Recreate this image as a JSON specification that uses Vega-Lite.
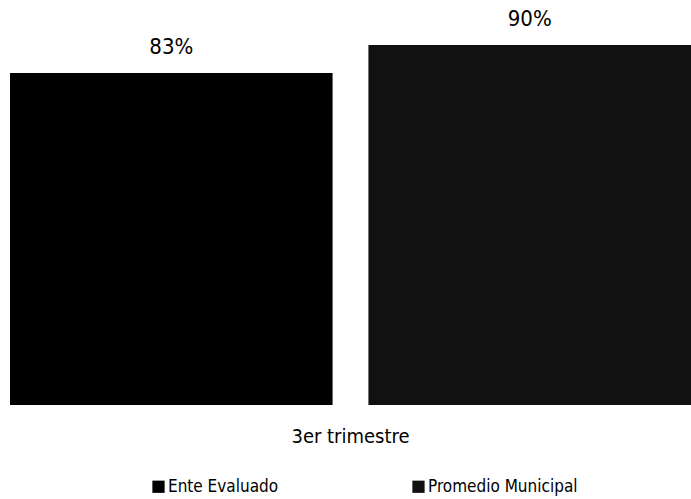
{
  "$schema": "https://vega.github.io/schema/vega-lite/v6.json",
  "autosize": "none",
  "padding": {"left": 10, "top": 5, "right": 0, "bottom": 94},
  "width": 681,
  "height": 400,
  "background": "white",
  "data": {"values": [
    {"trimestre": "3er trimestre", "serie": "Ente Evaluado", "valor": 0.83},
    {"trimestre": "3er trimestre", "serie": "Promedio Municipal", "valor": 0.90}
  ]},
  "encoding": {
    "x": {"field": "trimestre", "type": "nominal", "scale": {"paddingInner": 0, "paddingOuter": 0},
      "axis": {"title": null, "labelAngle": 0, "domain": false, "ticks": false, "labelPadding": 21, "labelDx": -5, "labelFont": "'DejaVu Sans Condensed', 'DejaVu Sans'", "labelFontSize": 20, "labelColor": "#000"}},
    "xOffset": {"field": "serie", "type": "nominal", "scale": {"paddingInner": 0.1, "paddingOuter": 0}},
    "y": {"field": "valor", "type": "quantitative", "scale": {"domain": [0, 1]}, "axis": null}
  },
  "layer": [
    {"mark": {"type": "bar"},
     "encoding": {"color": {"field": "serie", "type": "nominal",
       "scale": {"domain": ["Ente Evaluado", "Promedio Municipal"], "range": ["#000000", "#111111"]},
       "legend": {"title": null, "orient": "none", "legendX": 140, "legendY": 473, "direction": "horizontal", "columns": 2, "columnPadding": 131, "symbolType": "square", "symbolSize": 150, "symbolStrokeWidth": 0, "labelFont": "'DejaVu Sans Condensed', 'DejaVu Sans'", "labelFontSize": 17, "labelColor": "#000", "labelOffset": 1}}}},
    {"mark": {"type": "text", "baseline": "bottom", "dy": -14, "font": "'DejaVu Sans Condensed', 'DejaVu Sans'", "fontSize": 22, "color": "#000"},
     "encoding": {"text": {"field": "valor", "type": "quantitative", "format": ".0%"}}}
  ],
  "config": {"view": {"stroke": null}}
}
